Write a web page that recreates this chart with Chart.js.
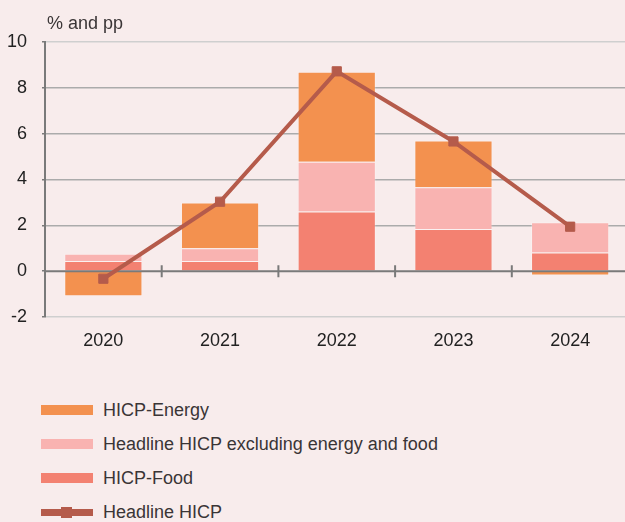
<!DOCTYPE html>
<html>
<head>
<meta charset="utf-8">
<script src="https://cdn.jsdelivr.net/npm/chart.js@4"></script>
<style>
  html, body { margin: 0; padding: 0; background: #F8ECEC; }
  body { width: 625px; height: 522px; position: relative; overflow: hidden;
         font-family: "Liberation Sans", Arial, sans-serif; }
  #wrap { position: absolute; left: 0; top: 0; width: 625px; height: 360px; overflow: hidden; }
  #legend { position: absolute; left: 41px; top: 393px; margin: 0; padding: 0; list-style: none; }
  #legend li { height: 34px; display: flex; align-items: center; font-size: 18px; color: #3a3536; }
  #legend .sw { width: 52px; height: 10px; margin-right: 10px; position: relative; flex: none; }
  #legend .sw.line { height: 7px; }
  #legend .sw.line::after { content: ""; position: absolute; left: 20px; top: -2px; width: 11px; height: 11px; background: inherit; }
</style>
</head>
<body>
<div id="wrap"><canvas id="c" width="636" height="360"></canvas></div>
<ul id="legend"></ul>
<script>
const categories = ["2020", "2021", "2022", "2023", "2024"];
const energy = [-1.09, 2.0, 3.93, 2.04, -0.19];
const coreExEnergyFood = [0.32, 0.56, 2.17, 1.82, 1.31];
const food = [0.44, 0.44, 2.6, 1.84, 0.82];
const headline = [-0.33, 3.03, 8.72, 5.66, 1.94];
const yTicks = [-2, 0, 2, 4, 6, 8, 10];
const axisTitle = "% and pp";

const COLORS = {
  energy: "#F3914F",
  core: "#F9B3B1",
  food: "#F38171",
  line: "#B55B4B"
};

const overlay = {
  id: "overlay",
  beforeDatasetDraw(chart, args) {
    if (args.index !== 0) return;
    const ctx = chart.ctx;
    const x = chart.scales.x, y = chart.scales.y;
    const y0 = y.getPixelForValue(0);
    ctx.save();
    ctx.strokeStyle = "#7a7a7a";
    ctx.lineWidth = 2;
    ctx.beginPath();
    ctx.moveTo(chart.chartArea.left, y0);
    ctx.lineTo(chart.chartArea.right, y0);
    for (let i = 0; i < categories.length - 1; i++) {
      const bx = (x.getPixelForValue(i) + x.getPixelForValue(i + 1)) / 2;
      ctx.moveTo(bx, y0 - 6);
      ctx.lineTo(bx, y0 + 6);
    }
    ctx.stroke();
    ctx.restore();
  },
  afterDraw(chart) {
    const ctx = chart.ctx;
    ctx.save();
    ctx.fillStyle = "#3a3536";
    ctx.font = "18px 'Liberation Sans', Arial, sans-serif";
    ctx.textBaseline = "middle";
    ctx.textAlign = "left";
    ctx.fillText(axisTitle, chart.chartArea.left + 2, 24);
    ctx.restore();
  }
};

const chart = new Chart(document.getElementById("c"), {
  data: {
    labels: categories,
    datasets: [
      {
        type: "line", label: "Headline HICP", data: headline,
        borderColor: COLORS.line, backgroundColor: COLORS.line,
        borderWidth: 4, pointStyle: "rect", pointRadius: 6.5, pointBorderWidth: 1,
        pointHoverRadius: 6.5, tension: 0, order: 0
      },
      { type: "bar", label: "HICP-Food", data: food, backgroundColor: COLORS.food,
        borderColor: "rgba(255,255,255,0.25)", borderWidth: 1, stack: "s", order: 1 },
      { type: "bar", label: "Headline HICP excluding energy and food", data: coreExEnergyFood,
        backgroundColor: COLORS.core, borderColor: "rgba(255,255,255,0.25)", borderWidth: 1, stack: "s", order: 1 },
      { type: "bar", label: "HICP-Energy", data: energy, backgroundColor: COLORS.energy,
        borderColor: "rgba(255,255,255,0.25)", borderWidth: 1, stack: "s", order: 1 }
    ]
  },
  options: {
    responsive: false,
    animation: false,
    layout: { padding: { top: 42, right: 0, left: 0, bottom: 0 } },
    datasets: { bar: { barPercentage: 0.67, categoryPercentage: 1 } },
    plugins: { legend: { display: false }, tooltip: { enabled: false } },
    scales: {
      x: {
        stacked: true,
        grid: { display: false, drawTicks: false },
        border: { display: false },
        ticks: { color: "#222", font: { size: 18, family: "'Liberation Sans', Arial, sans-serif" }, padding: 13 },
        afterFit(s) { s.height = 43; }
      },
      y: {
        stacked: true,
        min: -2, max: 10,
        afterBuildTicks(s) { s.ticks = yTicks.map(v => ({ value: v })); },
        grid: {
          color: c => (c.tick && c.tick.value === 0) ? "rgba(0,0,0,0)" :
                      (c.tick && (c.tick.value === 10 || c.tick.value === -2)) ? "#CFCFCF" : "#ABABAB",
          lineWidth: 1.5, tickLength: 3, tickColor: "#7a7a7a"
        },
        border: { color: "#7a7a7a", width: 2 },
        ticks: { color: "#222", font: { size: 18, family: "'Liberation Sans', Arial, sans-serif" }, padding: 15 },
        afterFit(s) { s.width = 45; }
      }
    }
  },
  plugins: [overlay]
});

const legendItems = [
  { label: "HICP-Energy", color: COLORS.energy, line: false },
  { label: "Headline HICP excluding energy and food", color: COLORS.core, line: false },
  { label: "HICP-Food", color: COLORS.food, line: false },
  { label: "Headline HICP", color: COLORS.line, line: true }
];
const ul = document.getElementById("legend");
legendItems.forEach(it => {
  const li = document.createElement("li");
  const sw = document.createElement("span");
  sw.className = "sw" + (it.line ? " line" : "");
  sw.style.background = it.color;
  li.appendChild(sw);
  li.appendChild(document.createTextNode(it.label));
  ul.appendChild(li);
});
</script>
</body>
</html>
